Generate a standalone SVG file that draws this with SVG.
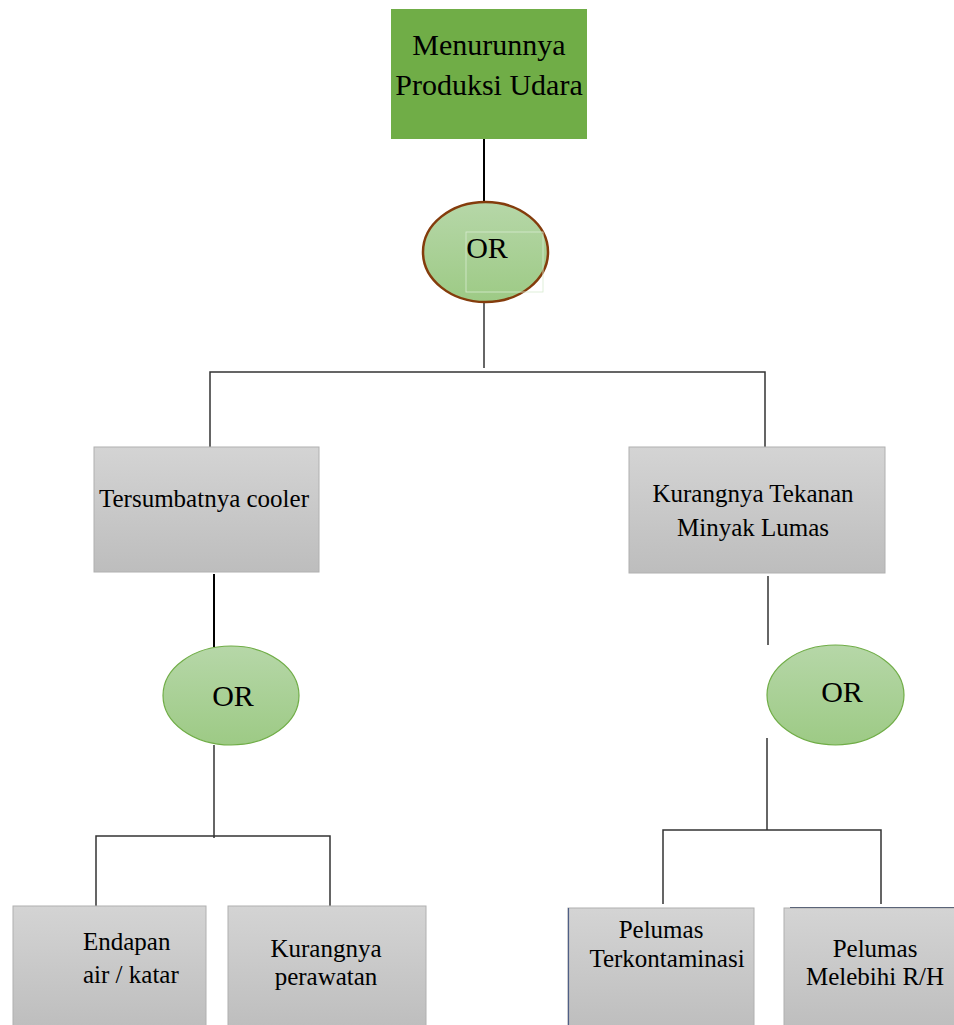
<svg xmlns="http://www.w3.org/2000/svg" width="954" height="1025" viewBox="0 0 954 1025">
<defs>
<linearGradient id="gray" x1="0" y1="0" x2="0" y2="1">
<stop offset="0" stop-color="#D4D4D4"/>
<stop offset="1" stop-color="#BDBDBD"/>
</linearGradient>
<linearGradient id="grn" x1="0" y1="0" x2="0" y2="1">
<stop offset="0" stop-color="#B6D7A8"/>
<stop offset="1" stop-color="#9DCA85"/>
</linearGradient>
<style>
text{font-family:"Liberation Serif","Times New Roman",serif;fill:#000;}
.box{fill:url(#gray);stroke:#B0B0B0;stroke-width:1;}
.gate{fill:url(#grn);stroke:#70AD47;stroke-width:1.2;}
.ln{stroke:#000;stroke-width:2;fill:none;}
.ln2{stroke:#333;stroke-width:1.5;fill:none;}
.t25{font-size:25px;}
.t30{font-size:30px;}
.or{font-size:30px;}
</style>
</defs>
<rect width="954" height="1025" fill="#fff"/>
<g id="connectors">
<line class="ln" x1="484" y1="139" x2="484" y2="206"/>
<line class="ln2" x1="484" y1="302" x2="484" y2="368"/>
<polyline class="ln2" points="210,447 210,372 765,372 765,447"/>
<line class="ln" x1="214" y1="574" x2="214" y2="647"/>
<line class="ln2" x1="214" y1="745" x2="214" y2="838"/>
<polyline class="ln2" points="96,906 96,836 330,836 330,906"/>
<line class="ln2" x1="768" y1="576" x2="768" y2="645"/>
<line class="ln2" x1="767" y1="738" x2="767" y2="830"/>
<polyline class="ln2" points="663,904 663,830 881,830 881,904"/>
</g>
<g id="top">
<rect x="391" y="9" width="196" height="130" fill="#70AD47"/>
<text class="t30" x="489" y="55" text-anchor="middle">Menurunnya</text>
<text class="t30" x="489" y="95" text-anchor="middle">Produksi Udara</text>
</g>
<g id="or1">
<ellipse cx="485.5" cy="252" rx="62.5" ry="50" fill="url(#grn)" stroke="#843C0C" stroke-width="2.5"/>
<rect x="466" y="232" width="77" height="60" fill="none" stroke="#D8EBCF" stroke-width="0.8"/>
<text class="or" x="487" y="258" text-anchor="middle">OR</text>
</g>
<g id="cooler">
<rect class="box" x="94" y="447" width="225" height="125"/>
<text class="t25" x="204" y="507" text-anchor="middle">Tersumbatnya cooler</text>
</g>
<g id="tekanan">
<rect class="box" x="629" y="447" width="256" height="126"/>
<text class="t25" x="753" y="502" text-anchor="middle">Kurangnya Tekanan</text>
<text class="t25" x="753" y="536" text-anchor="middle">Minyak Lumas</text>
</g>
<g id="or2">
<ellipse class="gate" cx="231" cy="695.5" rx="68" ry="49.5"/>
<text class="or" x="233" y="706" text-anchor="middle">OR</text>
</g>
<g id="or3">
<ellipse class="gate" cx="835.5" cy="695" rx="68.5" ry="50"/>
<text class="or" x="842" y="702" text-anchor="middle">OR</text>
</g>
<g id="endapan">
<rect class="box" x="13" y="906" width="193" height="125"/>
<text class="t25" x="83" y="950">Endapan</text>
<text class="t25" x="83" y="983">air / katar</text>
</g>
<g id="perawatan">
<rect class="box" x="228" y="906" width="198" height="125"/>
<text class="t25" x="326" y="957" text-anchor="middle">Kurangnya</text>
<text class="t25" x="326" y="985" text-anchor="middle">perawatan</text>
</g>
<g id="terkontaminasi">
<rect class="box" x="568" y="908" width="186" height="125"/>
<line x1="568.5" y1="908" x2="568.5" y2="1025" stroke="#4F5F86" stroke-width="1.2"/>
<text class="t25" x="661" y="938" text-anchor="middle">Pelumas</text>
<text class="t25" x="667" y="967" text-anchor="middle">Terkontaminasi</text>
</g>
<g id="melebihi">
<rect class="box" x="784" y="908" width="180" height="125"/>
<line x1="790" y1="907.5" x2="954" y2="907.5" stroke="#5A6478" stroke-width="1.2"/>
<text class="t25" x="875" y="957" text-anchor="middle">Pelumas</text>
<text class="t25" x="875" y="985" text-anchor="middle">Melebihi R/H</text>
</g>
</svg>
